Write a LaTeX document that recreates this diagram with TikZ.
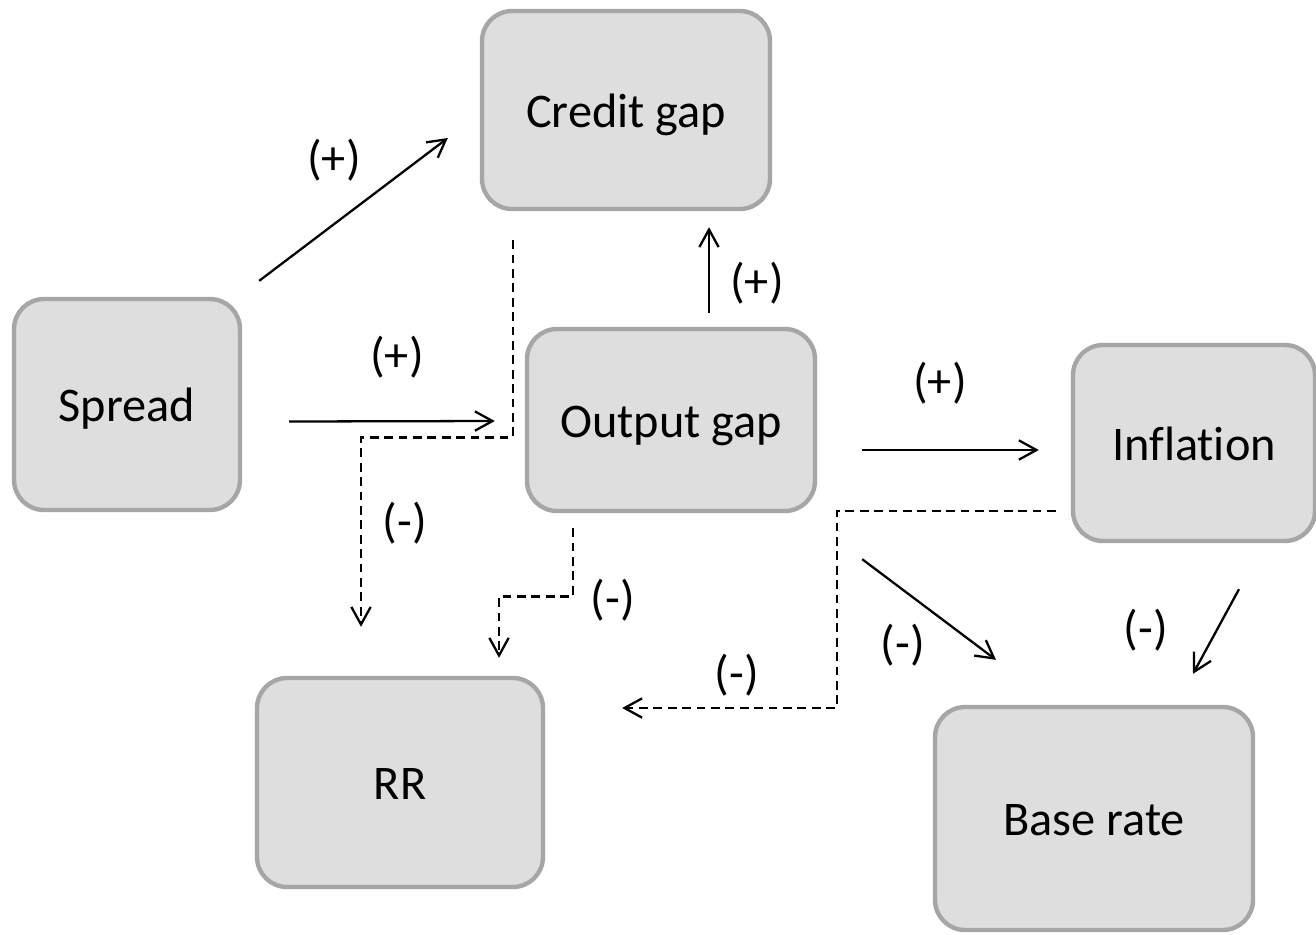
\documentclass[tikz,border=0pt]{standalone}
\usepackage{fontspec}
\setmainfont{Carlito}[Ligatures=NoCommon]
\usetikzlibrary{arrows.meta}
\usetikzlibrary{positioning}

\definecolor{boxfill}{HTML}{DEDEDE}
\definecolor{boxline}{HTML}{A6A6A6}

\tikzset{
  varbox/.style={rectangle,rounded corners=0.6cm,fill=boxfill,draw=boxline,line width=2.5pt,
    font=\fontsize{27.5}{32}\selectfont,inner sep=0pt,text height=19.5pt,text depth=0pt},
  link/.style={line width=1.3pt,-{Straight Barb[length=10pt,width=11pt,line width=1.3pt]}},
  dashlink/.style={link,line width=1.5pt,dash pattern=on 5pt off 3.2pt},
  sign/.style={font=\fontsize{27.5}{32}\selectfont,inner sep=0pt}
}

\begin{document}
\begin{tikzpicture}[x=0.02cm,y=-0.02cm]
\clip (0,0) rectangle (1316,934);

% variables
\node[varbox,minimum width=5.76cm,minimum height=3.96cm] (credit) at (626,110) {Credit gap};
\node[varbox,minimum width=4.52cm,minimum height=4.22cm] (spread) at (127,404.5) {Spread};
\node[varbox,minimum width=5.76cm,minimum height=3.64cm] (output) at (671,420) {Output gap};
\node[varbox,minimum width=4.84cm,minimum height=3.92cm] (inflation) at (1194,443) {Inflation};
\node[varbox,minimum width=5.72cm,minimum height=4.18cm] (rr) at (400,782.5) {RR};
\node[varbox,minimum width=6.36cm,minimum height=4.46cm] (base) at (1094,818.5) {Base rate};

% solid links
\draw[link] ([shift={(17,-16)}]spread.north east) -- ([shift={(-32,28)}]credit.west);
\draw[link] ([shift={(47,17)}]spread.east) -- ([shift={(-30,1)}]output.west);
\draw[link] ([shift={(38,-14)}]output.north) -- ([shift={(83,16)}]credit.south);
\draw[link] ([shift={(45,30)}]output.east) -- ([shift={(-32,7)}]inflation.west);
\draw[link] ([shift={(45,46)}]output.south east) -- ([shift={(-98,-45)}]base.north);
\draw[link] ([shift={(45,46)}]inflation.south) -- ([shift={(99,-31)}]base.north);

% dashed links
\draw[dashlink] ([shift={(-113,29)}]credit.south) -- ++(0,197) -| ([shift={(-39,-49)}]rr.north);
\draw[dashlink] ([shift={(-98,15)}]output.south) -- ++(0,68) -| ([shift={(99,-18)}]rr.north);
\draw[dashlink] ([shift={(-15,68)}]inflation.west) -- ++(-219,0) |- ([shift={(77,-74.5)}]rr.east);

% signs
\node[sign] (s1) at (334,160) {(+)};
\node[sign] (s2) at (397,357) {(+)};
\node[sign] (s3) at (757,283) {(+)};
\node[sign] (s4) at (940,383) {(+)};
\node[sign] (s5) at (405,523) {(-)};
\node[sign] (s6) at (613,600) {(-)};
\node[sign] (s7) at (737,675) {(-)};
\node[sign] (s8) at (903,645) {(-)};
\node[sign] (s9) at (1146,630) {(-)};

\end{tikzpicture}
\end{document}
